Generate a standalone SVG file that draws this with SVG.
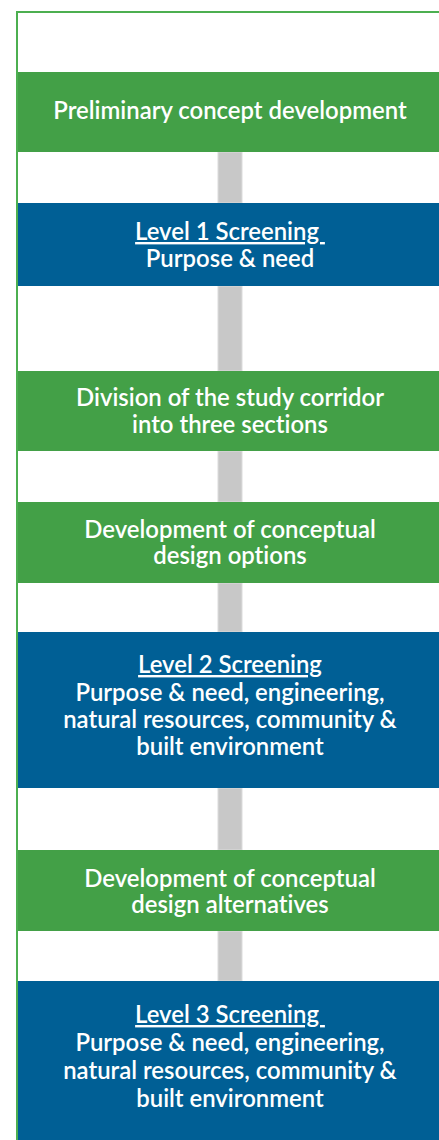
<svg xmlns="http://www.w3.org/2000/svg" width="439" height="1140" viewBox="0 0 439 1140">
  <style>
    .green { fill: #43a047; }
    .blue { fill: #005f95; }
    .bar { fill: #c8c8c8; stroke: #dcdcdc; stroke-width: 1; }
    .label { font-family: Lato, "Open Sans", sans-serif; font-weight: 600; font-size: 23.9px; fill: #ffffff; text-anchor: middle; font-variant-ligatures: none; }
    .head { text-decoration: underline; white-space: pre; }
  </style>
  <rect width="439" height="1140" fill="#ffffff"/>
  <!-- frame: left and top edges -->
  <path d="M17 1140 V12 H439" fill="none" stroke="#4caf50" stroke-width="2"/>

  <g id="connectors">
    <rect class="bar" x="218" y="152" width="24" height="51"/>
    <rect class="bar" x="218" y="286" width="24" height="85"/>
    <rect class="bar" x="218" y="451" width="24" height="51"/>
    <rect class="bar" x="218" y="583" width="24" height="49"/>
    <rect class="bar" x="218" y="788" width="24" height="62"/>
    <rect class="bar" x="218" y="931" width="24" height="50"/>
  </g>

  <g id="concept">
    <rect class="green" x="18" y="72" width="421" height="80"/>
    <text class="label" x="230" y="119">Preliminary concept development</text>
  </g>

  <g id="level1">
    <rect class="blue" x="18" y="203" width="421" height="83"/>
    <text class="label" x="230" y="240"><tspan class="head">Level 1 Screening </tspan></text>
    <text class="label" x="230" y="267">Purpose &amp; need</text>
  </g>

  <g id="division">
    <rect class="green" x="18" y="371" width="421" height="80"/>
    <text class="label" x="230" y="406">Division of the study corridor</text>
    <text class="label" x="230" y="433">into three sections</text>
  </g>

  <g id="options">
    <rect class="green" x="18" y="502" width="421" height="81"/>
    <text class="label" x="230" y="537.5">Development of conceptual</text>
    <text class="label" x="230" y="564">design options</text>
  </g>

  <g id="level2">
    <rect class="blue" x="18" y="632" width="421" height="156"/>
    <text class="label" x="230" y="673"><tspan class="head">Level 2 Screening</tspan></text>
    <text class="label" x="230" y="701">Purpose &amp; need, engineering,</text>
    <text class="label" x="230" y="728">natural resources, community &amp;</text>
    <text class="label" x="230" y="755">built environment</text>
  </g>

  <g id="alternatives">
    <rect class="green" x="18" y="850" width="421" height="81"/>
    <text class="label" x="230" y="886.5">Development of conceptual</text>
    <text class="label" x="230" y="913">design alternatives</text>
  </g>

  <g id="level3">
    <rect class="blue" x="18" y="981" width="421" height="159"/>
    <text class="label" x="230" y="1023"><tspan class="head">Level 3 Screening </tspan></text>
    <text class="label" x="230" y="1051">Purpose &amp; need, engineering,</text>
    <text class="label" x="230" y="1079">natural resources, community &amp;</text>
    <text class="label" x="230" y="1107">built environment</text>
  </g>
</svg>
